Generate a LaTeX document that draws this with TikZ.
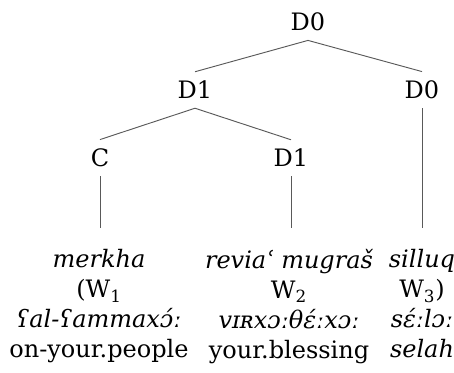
\documentclass[tikz,border=0pt]{standalone}
\usepackage{fontspec}
\setmainfont{DejaVu Serif}
\begin{document}
\begin{tikzpicture}[x=0.75pt,y=-0.75pt,
  lbl/.style={inner sep=0pt,outer xsep=0pt,outer ysep=7pt,font=\fontsize{18}{22.5}\selectfont},
  leaf/.style={inner sep=0pt,anchor=north,align=center,font=\fontsize{18}{22.5}\selectfont},
  edge/.style={draw=black!65,line width=0.7pt}]
\useasboundingbox (0,0) rectangle (454,373);
% tree
\node[lbl] (r)  at (308,22)  {D0};
\node[lbl] (l)  at (195,90)  {D1};
\node[lbl] (rr) at (422,90)  {D0};
\node[lbl] (c)  at (100,158) {C};
\node[lbl] (d)  at (291,158) {D1};
% words with glosses
\node[leaf] (w1) at (99,249)  {\itshape merkha\\(W\textsubscript{1}\\\itshape ʕal-ʕammaxɔ́ː\\on-your.people};
\node[leaf] (w2) at (289,249) {\itshape reviaʿ mugraš\\W\textsubscript{2}\\\itshape vɪʀxɔːθɛ́ːxɔː\\your.blessing};
\node[leaf] (w3) at (422,249) {\itshape silluq\\W\textsubscript{3})\\\itshape sɛ́ːlɔː\\\itshape selah};
% branches
\draw[edge] (r.south) -- (l.north);
\draw[edge] (r.south) -- (rr.north);
\draw[edge] (l.south) -- (c.north);
\draw[edge] (l.south) -- (d.north);
\draw[edge,shorten >=16pt] (c.south) -- (c.south |- w1.north);
\draw[edge,shorten >=16pt] (d.south) -- (d.south |- w2.north);
\draw[edge,shorten >=16pt] (rr.south) -- (rr.south |- w3.north);
\end{tikzpicture}
\end{document}
